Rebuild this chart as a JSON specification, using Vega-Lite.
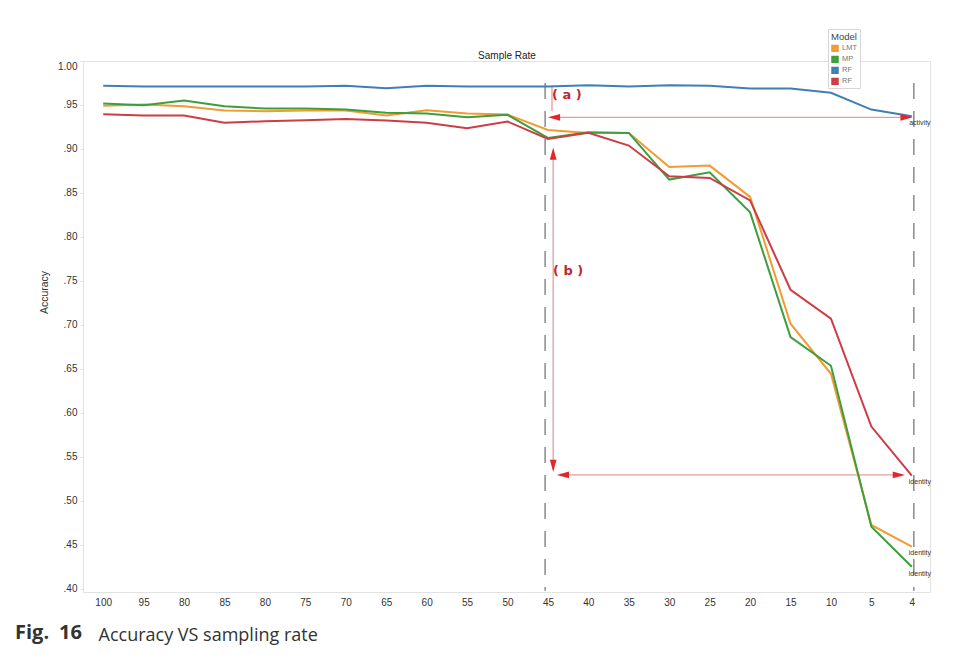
{
  "$schema": "https://vega.github.io/schema/vega-lite/v6.json",
  "width": 847,
  "height": 531,
  "autosize": {"type": "none"},
  "padding": {"left": 83, "top": 61, "right": 27, "bottom": 63},
  "background": "white",
  "title": {"text": "Fig.\u200216", "orient": "bottom", "anchor": "start", "frame": "group", "dx": -68, "offset": -5, "baseline": "alphabetic", "font": "Open Sans", "fontSize": 20, "fontWeight": "bold", "color": "#333333"},
  "datasets": {
    "series": [
      {"model": "LMT", "rate": "100", "i": 0, "acc": 0.949},
      {"model": "LMT", "rate": "95", "i": 1, "acc": 0.9505},
      {"model": "LMT", "rate": "80", "i": 2, "acc": 0.9486},
      {"model": "LMT", "rate": "85", "i": 3, "acc": 0.9437},
      {"model": "LMT", "rate": "80", "i": 4, "acc": 0.9429},
      {"model": "LMT", "rate": "75", "i": 5, "acc": 0.9437},
      {"model": "LMT", "rate": "70", "i": 6, "acc": 0.9437},
      {"model": "LMT", "rate": "65", "i": 7, "acc": 0.938},
      {"model": "LMT", "rate": "60", "i": 8, "acc": 0.944},
      {"model": "LMT", "rate": "55", "i": 9, "acc": 0.9403},
      {"model": "LMT", "rate": "50", "i": 10, "acc": 0.9391},
      {"model": "LMT", "rate": "45", "i": 11, "acc": 0.9217},
      {"model": "LMT", "rate": "40", "i": 12, "acc": 0.9183},
      {"model": "LMT", "rate": "35", "i": 13, "acc": 0.9183},
      {"model": "LMT", "rate": "30", "i": 14, "acc": 0.8796},
      {"model": "LMT", "rate": "25", "i": 15, "acc": 0.8811},
      {"model": "LMT", "rate": "20", "i": 16, "acc": 0.8455},
      {"model": "LMT", "rate": "15", "i": 17, "acc": 0.7014},
      {"model": "LMT", "rate": "10", "i": 18, "acc": 0.6445},
      {"model": "LMT", "rate": "5", "i": 19, "acc": 0.4727},
      {"model": "LMT", "rate": "4", "i": 20, "acc": 0.448},
      {"model": "MP", "rate": "100", "i": 0, "acc": 0.9517},
      {"model": "MP", "rate": "95", "i": 1, "acc": 0.9497},
      {"model": "MP", "rate": "80", "i": 2, "acc": 0.9551},
      {"model": "MP", "rate": "85", "i": 3, "acc": 0.9486},
      {"model": "MP", "rate": "80", "i": 4, "acc": 0.946},
      {"model": "MP", "rate": "75", "i": 5, "acc": 0.946},
      {"model": "MP", "rate": "70", "i": 6, "acc": 0.9448},
      {"model": "MP", "rate": "65", "i": 7, "acc": 0.9411},
      {"model": "MP", "rate": "60", "i": 8, "acc": 0.9403},
      {"model": "MP", "rate": "55", "i": 9, "acc": 0.9361},
      {"model": "MP", "rate": "50", "i": 10, "acc": 0.9388},
      {"model": "MP", "rate": "45", "i": 11, "acc": 0.9126},
      {"model": "MP", "rate": "40", "i": 12, "acc": 0.919},
      {"model": "MP", "rate": "35", "i": 13, "acc": 0.9183},
      {"model": "MP", "rate": "30", "i": 14, "acc": 0.8652},
      {"model": "MP", "rate": "25", "i": 15, "acc": 0.8735},
      {"model": "MP", "rate": "20", "i": 16, "acc": 0.828},
      {"model": "MP", "rate": "15", "i": 17, "acc": 0.6862},
      {"model": "MP", "rate": "10", "i": 18, "acc": 0.6536},
      {"model": "MP", "rate": "5", "i": 19, "acc": 0.4707},
      {"model": "MP", "rate": "4", "i": 20, "acc": 0.4252},
      {"model": "RF", "rate": "100", "i": 0, "acc": 0.972},
      {"model": "RF", "rate": "95", "i": 1, "acc": 0.971},
      {"model": "RF", "rate": "80", "i": 2, "acc": 0.971},
      {"model": "RF", "rate": "85", "i": 3, "acc": 0.971},
      {"model": "RF", "rate": "80", "i": 4, "acc": 0.971},
      {"model": "RF", "rate": "75", "i": 5, "acc": 0.971},
      {"model": "RF", "rate": "70", "i": 6, "acc": 0.972},
      {"model": "RF", "rate": "65", "i": 7, "acc": 0.969},
      {"model": "RF", "rate": "60", "i": 8, "acc": 0.972},
      {"model": "RF", "rate": "55", "i": 9, "acc": 0.971},
      {"model": "RF", "rate": "50", "i": 10, "acc": 0.971},
      {"model": "RF", "rate": "45", "i": 11, "acc": 0.971},
      {"model": "RF", "rate": "40", "i": 12, "acc": 0.9725},
      {"model": "RF", "rate": "35", "i": 13, "acc": 0.971},
      {"model": "RF", "rate": "30", "i": 14, "acc": 0.9725},
      {"model": "RF", "rate": "25", "i": 15, "acc": 0.972},
      {"model": "RF", "rate": "20", "i": 16, "acc": 0.9687},
      {"model": "RF", "rate": "15", "i": 17, "acc": 0.9687},
      {"model": "RF", "rate": "10", "i": 18, "acc": 0.9638},
      {"model": "RF", "rate": "5", "i": 19, "acc": 0.9448},
      {"model": "RF", "rate": "4", "i": 20, "acc": 0.9372},
      {"model": "RF ", "rate": "100", "i": 0, "acc": 0.9395},
      {"model": "RF ", "rate": "95", "i": 1, "acc": 0.938},
      {"model": "RF ", "rate": "80", "i": 2, "acc": 0.938},
      {"model": "RF ", "rate": "85", "i": 3, "acc": 0.9297},
      {"model": "RF ", "rate": "80", "i": 4, "acc": 0.9315},
      {"model": "RF ", "rate": "75", "i": 5, "acc": 0.9327},
      {"model": "RF ", "rate": "70", "i": 6, "acc": 0.9342},
      {"model": "RF ", "rate": "65", "i": 7, "acc": 0.9323},
      {"model": "RF ", "rate": "60", "i": 8, "acc": 0.9297},
      {"model": "RF ", "rate": "55", "i": 9, "acc": 0.9235},
      {"model": "RF ", "rate": "50", "i": 10, "acc": 0.9312},
      {"model": "RF ", "rate": "45", "i": 11, "acc": 0.9115},
      {"model": "RF ", "rate": "40", "i": 12, "acc": 0.9183},
      {"model": "RF ", "rate": "35", "i": 13, "acc": 0.9039},
      {"model": "RF ", "rate": "30", "i": 14, "acc": 0.8689},
      {"model": "RF ", "rate": "25", "i": 15, "acc": 0.8671},
      {"model": "RF ", "rate": "20", "i": 16, "acc": 0.8416},
      {"model": "RF ", "rate": "15", "i": 17, "acc": 0.74},
      {"model": "RF ", "rate": "10", "i": 18, "acc": 0.7071},
      {"model": "RF ", "rate": "5", "i": 19, "acc": 0.5845},
      {"model": "RF ", "rate": "4", "i": 20, "acc": 0.5288}
    ],
    "dashes": [
      {"x": 10.93, "y": 0.975, "y2": 0.398},
      {"x": 20.05, "y": 0.975, "y2": 0.398}
    ],
    "shafts": [
      {"part": "a-vertical", "x": 11.1, "x2": 11.1, "y": 0.9705, "y2": 0.943},
      {"part": "a-horizontal", "x": 11.05, "x2": 19.95, "y": 0.936, "y2": 0.936},
      {"part": "b-vertical", "x": 11.13, "x2": 11.13, "y": 0.8948, "y2": 0.54},
      {"part": "b-horizontal", "x": 11.3, "x2": 19.75, "y": 0.5296, "y2": 0.5296}
    ],
    "heads": [
      {"x": 11.15, "y": 0.936, "dir": "left"},
      {"x": 19.87, "y": 0.936, "dir": "right"},
      {"x": 11.13, "y": 0.8948, "dir": "up"},
      {"x": 11.13, "y": 0.5399, "dir": "down"},
      {"x": 11.37, "y": 0.5296, "dir": "left"},
      {"x": 19.68, "y": 0.5296, "dir": "right"}
    ],
    "marks": [
      {"x": 11.47, "y": 0.9608, "text": "( a )"},
      {"x": 11.5, "y": 0.7617, "text": "( b )"}
    ],
    "notes": [
      {"x": 20.2, "y": 0.93, "text": "activity"},
      {"x": 20.2, "y": 0.5216, "text": "identity"},
      {"x": 20.2, "y": 0.4408, "text": "identity"},
      {"x": 20.2, "y": 0.4169, "text": "identity"}
    ]
  },
  "layer": [
    {
      "data": {"name": "dashes"},
      "mark": {"type": "rule", "strokeDash": [16, 12], "color": "#8a8a8a", "strokeWidth": 1.5},
      "encoding": {
        "x": {"field": "x", "type": "quantitative", "scale": {"domain": [-0.5, 20.45], "nice": false},
          "axis": {"orient": "top", "title": "Sample Rate", "labels": false, "ticks": false, "domain": false, "grid": false, "titlePadding": 1, "titleFont": "Liberation Sans", "titleFontSize": 10, "titleFontWeight": "normal", "titleColor": "#222222"}},
        "y": {"field": "y", "type": "quantitative", "axis": null},
        "y2": {"field": "y2"}
      }
    },
    {
      "data": {"name": "shafts"},
      "mark": {"type": "rule", "color": "#e79c9c", "strokeWidth": 1.3},
      "encoding": {
        "x": {"field": "x", "type": "quantitative", "axis": null},
        "x2": {"field": "x2"},
        "y": {"field": "y", "type": "quantitative", "axis": null},
        "y2": {"field": "y2"}
      }
    },
    {
      "data": {"name": "series"},
      "mark": {"type": "line", "strokeWidth": 2},
      "encoding": {
        "x": {"field": "i", "type": "quantitative", "scale": {"domain": [-0.5, 20.45], "nice": false},
          "axis": {"orient": "bottom", "values": [0,1,2,3,4,5,6,7,8,9,10,11,12,13,14,15,16,17,18,19,20],
            "labelExpr": "['100','95','80','85','80','75','70','65','60','55','50','45','40','35','30','25','20','15','10','5','4'][datum.value]",
            "labelFont": "Liberation Sans", "labelFontSize": 10, "labelColor": "#333333", "labelPadding": 5, "labelFlush": false,
            "ticks": false, "domain": false, "grid": false,
            "title": "Accuracy VS sampling rate", "titleFont": "Open Sans", "titleFontSize": 18, "titleFontWeight": "normal", "titleColor": "#333333",
            "titleX": 15, "titleY": 48, "titleAlign": "left", "titleAnchor": "start", "titleBaseline": "alphabetic"}},
        "y": {"field": "acc", "type": "quantitative", "scale": {"domain": [0.3965, 1.0], "nice": false, "zero": false},
          "axis": {"values": [0.4,0.45,0.5,0.55,0.6,0.65,0.7,0.75,0.8,0.85,0.9,0.95,1.0],
            "labelExpr": "datum.value >= 0.999 ? '1.00' : replace(format(datum.value, '.2f'), '0.', '.')",
            "labelFont": "Liberation Sans", "labelFontSize": 10, "labelColor": "#333333", "labelPadding": 3, "labelFlush": false,
            "labelBaseline": {"condition": {"test": "datum.value >= 0.999", "value": "top"}, "value": "middle"},
            "ticks": true, "tickSize": 3, "tickColor": "#e0e0e0", "domain": false, "grid": false,
            "title": "Accuracy", "titleFont": "Liberation Sans", "titleFontSize": 10.5, "titleFontWeight": "normal", "titleColor": "#333333",
            "titleX": -39, "titleY": 231, "titleAngle": -90, "titleAlign": "center", "titleBaseline": "middle"}},
        "color": {"field": "model", "type": "nominal",
          "scale": {"domain": ["LMT", "MP", "RF", "RF "], "range": ["#f39a32", "#3d9e3d", "#3f7fb5", "#cc3d45"]},
          "legend": {"orient": "none", "legendX": 745, "legendY": -32, "title": "Model", "padding": 3,
            "strokeColor": "#d6d6d6", "fillColor": "white", "titleFont": "Liberation Sans", "titleFontSize": 9.5, "titleFontWeight": "normal", "titleColor": "#444444", "titlePadding": 3,
            "labelFont": "Liberation Sans", "labelFontSize": 7.5, "labelColor": "#777777", "labelOffset": 3,
            "symbolType": "square", "symbolSize": 16, "symbolStrokeWidth": 3.5, "symbolOpacity": 1, "rowPadding": 2, "clipHeight": 7.5}},
        "order": {"field": "i", "type": "quantitative"}
      }
    },
    {
      "data": {"name": "heads"},
      "mark": {"type": "point", "filled": true, "size": 150, "opacity": 1, "color": "#e3262b", "strokeWidth": 0},
      "encoding": {
        "x": {"field": "x", "type": "quantitative", "axis": null},
        "y": {"field": "y", "type": "quantitative", "axis": null},
        "shape": {"field": "dir", "type": "nominal", "legend": null,
          "scale": {"domain": ["left", "right", "up", "down"],
            "range": ["M-1,0L1,-0.55L1,0.55Z", "M1,0L-1,-0.55L-1,0.55Z", "M0,-1L-0.55,1L0.55,1Z", "M0,1L-0.55,-1L0.55,-1Z"]}}
      }
    },
    {
      "data": {"name": "marks"},
      "mark": {"type": "text", "font": "DejaVu Sans", "fontSize": 13, "fontWeight": "bold", "color": "#c0282d", "align": "center", "baseline": "middle"},
      "encoding": {
        "x": {"field": "x", "type": "quantitative", "axis": null},
        "y": {"field": "y", "type": "quantitative", "axis": null},
        "text": {"field": "text"}
      }
    },
    {
      "data": {"name": "notes"},
      "mark": {"type": "text", "font": "Liberation Sans", "fontSize": 7, "color": "#333333", "align": "center", "baseline": "middle"},
      "encoding": {
        "x": {"field": "x", "type": "quantitative", "axis": null},
        "y": {"field": "y", "type": "quantitative", "axis": null},
        "text": {"field": "text"}
      }
    }
  ],
  "resolve": {"axis": {"x": "independent", "y": "independent"}},
  "config": {
    "view": {"stroke": "#e2e2e2"},
    "font": "Liberation Sans",
    "legend": {"symbolSize": 16, "symbolStrokeWidth": 3.5, "rowPadding": 2, "clipHeight": 7.5}
  }
}
